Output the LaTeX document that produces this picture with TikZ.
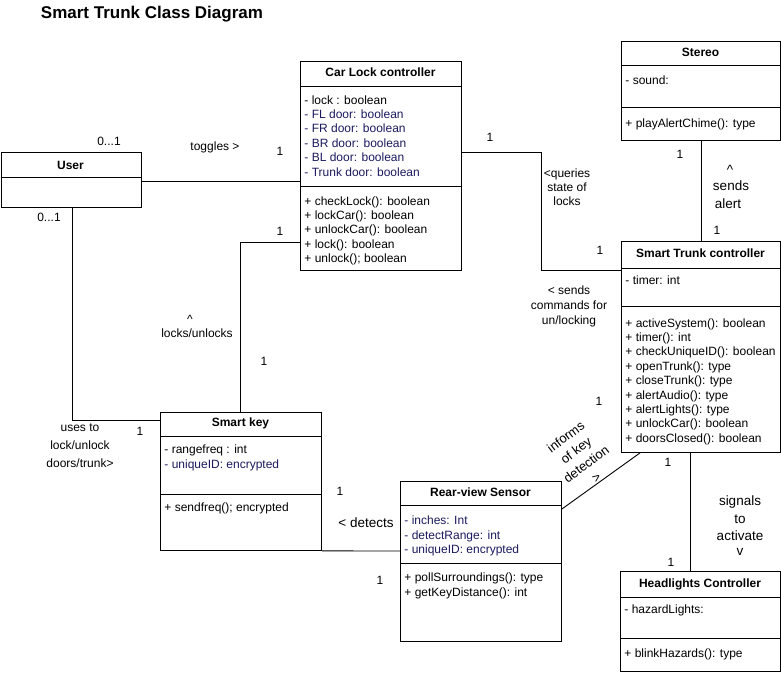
\documentclass[tikz,border=0pt]{standalone}
\usepackage{fontspec}
\setmainfont{Liberation Sans}
\definecolor{navy}{HTML}{1A1A5E}
\begin{document}
\begin{tikzpicture}[x=1pt,y=-1pt,line width=0.9pt,
  box/.style={draw,rectangle,anchor=north west,inner sep=0pt,line width=0.9pt},
  ttl/.style={font=\fontsize{12}{14.4}\selectfont\bfseries,anchor=base,inner sep=0pt},
  attr/.style={font=\fontsize{12}{14.4}\selectfont,anchor=base west,inner sep=0pt},
  lbl/.style={font=\fontsize{12}{14.4}\selectfont,anchor=base,inner sep=0pt},
  big/.style={font=\fontsize{13.5}{17}\selectfont,anchor=base,inner sep=0pt},
  conn/.style={draw,line width=0.9pt}]
\useasboundingbox (0,0) rectangle (781,672);

% title
\node[font=\fontsize{17}{20}\selectfont\bfseries,anchor=base west,inner sep=0pt] (title) at (40.5,18) {Smart Trunk Class Diagram};

% boxes
\node[box,minimum width=140pt,minimum height=55pt] (user) at (0.5,152) {};
\node[box,minimum width=161pt,minimum height=209pt] (car) at (300,61) {};
\node[box,minimum width=161pt,minimum height=138pt] (key) at (160,412) {};
\node[box,minimum width=161pt,minimum height=160pt] (rear) at (400,481) {};
\node[box,minimum width=159pt,minimum height=99pt] (stereo) at (621,41) {};
\node[box,minimum width=159pt,minimum height=211pt] (trunk) at (621,241) {};
\node[box,minimum width=160pt,minimum height=100pt] (head) at (620,571) {};

% dividers
\draw (user.west |- 0,177) -- (user.east |- 0,177);
\draw (car.west |- 0,86) -- (car.east |- 0,86);
\draw (car.west |- 0,186) -- (car.east |- 0,186);
\draw (key.west |- 0,436) -- (key.east |- 0,436);
\draw (key.west |- 0,494) -- (key.east |- 0,494);
\draw (rear.west |- 0,505) -- (rear.east |- 0,505);
\draw (rear.west |- 0,563) -- (rear.east |- 0,563);
\draw (stereo.west |- 0,65) -- (stereo.east |- 0,65);
\draw (stereo.west |- 0,107) -- (stereo.east |- 0,107);
\draw (trunk.west |- 0,268) -- (trunk.east |- 0,268);
\draw (trunk.west |- 0,306) -- (trunk.east |- 0,306);
\draw (head.west |- 0,597) -- (head.east |- 0,597);
\draw (head.west |- 0,638) -- (head.east |- 0,638);

% class names
\node[ttl] (user-t) at (70.5,169) {User};
\node[ttl] (car-t) at (380.5,76) {Car Lock controller};
\node[ttl] (key-t) at (240.5,426) {Smart key};
\node[ttl] (rear-t) at (480.5,496) {Rear-view Sensor};
\node[ttl] (stereo-t) at (700.5,56) {Stereo};
\node[ttl] (trunk-t) at (700.5,257) {Smart Trunk controller};
\node[ttl] (head-t) at (700,587) {Headlights Controller};

% Car Lock members
\foreach \t [count=\i] in {{- lock : boolean},{\color{navy}- FL door: boolean},{\color{navy}- FR door: boolean},{\color{navy}- BR door: boolean},{\color{navy}- BL door: boolean},{\color{navy}- Trunk door: boolean}}
  \node[attr] (car-a\i) at (304,{104+(\i-1)*14.4}) {\t};
\foreach \t [count=\i] in {{+ checkLock(): boolean},{+ lockCar(): boolean},{+ unlockCar(): boolean},{+ lock(): boolean},{+ unlock(); boolean}}
  \node[attr] (car-m\i) at (304,{205+(\i-1)*14.4}) {\t};

% Smart key members
\node[attr] (key-a1) at (164,453) {- rangefreq : int};
\node[attr] (key-a2) at (164,468) {\color{navy}- uniqueID: encrypted};
\node[attr] (key-m1) at (164,511) {+ sendfreq(); encrypted};

% Rear-view members
\node[attr] (rear-a1) at (404,524) {\color{navy}- inches: Int};
\node[attr] (rear-a2) at (404,539) {\color{navy}- detectRange: int};
\node[attr] (rear-a3) at (404,553) {\color{navy}- uniqueID: encrypted};
\node[attr] (rear-m1) at (404,581) {+ pollSurroundings(): type};
\node[attr] (rear-m2) at (404,596) {+ getKeyDistance(): int};

% Stereo members
\node[attr] (stereo-a1) at (625,84) {- sound:};
\node[attr] (stereo-m1) at (625,127) {+ playAlertChime(): type};

% Smart Trunk members
\node[attr] (trunk-a1) at (625,284) {- timer: int};
\foreach \t [count=\i] in {{+ activeSystem(): boolean},{+ timer(): int},{+ checkUniqueID(): boolean},{+ openTrunk(): type},{+ closeTrunk(): type},{+ alertAudio(): type},{+ alertLights(): type},{+ unlockCar(): boolean},{+ doorsClosed(): boolean}}
  \node[attr] (trunk-m\i) at (625,{327+(\i-1)*14.4}) {\t};

% Headlights members
\node[attr] (head-a1) at (624,613) {- hazardLights:};
\node[attr] (head-m1) at (624,657) {+ blinkHazards(): type};

% connectors
\coordinate (b1) at (541,152);
\coordinate (b2) at (541,270);
\draw[conn] (user.east |- 0,181) -- (car.west |- 0,181);
\draw[conn] (user.south -| 72,0) |- (key.west |- 0,420);
\draw[conn] (key.north -| 240,0) |- (car.west |- 0,242);
\draw[conn] (key.south east) -- (rear.west |- 0,551);
\draw[conn] (rear.east |- 0,509) -- (trunk.south -| 640,0);
\draw[conn] (car.east |- b1) -- (b1) -- (b2) -- (trunk.west |- b2);
\draw[conn] (stereo.south) -- (trunk.north);
\draw[conn] (trunk.south -| 690,0) -- (head.north -| 690,0);

% labels
\node[lbl] (l1) at (109,145) {0...1};
\node[lbl] (l2) at (215,150) {toggles >};
\node[lbl] (l3) at (280,155) {1};
\node[lbl] (l4) at (49,221) {0...1};
\node[lbl] (l5) at (280,235) {1};
\node[lbl] (l6) at (190,323) {\^{}};
\node[lbl] (l7) at (197,337) {locks/unlocks};
\node[lbl] (l8) at (264,365) {1};
\node[lbl] (l9a) at (80,431) {uses to};
\node[lbl] (l9b) at (80,449) {lock/unlock};
\node[lbl] (l9c) at (80,467) {doors/trunk>};
\node[lbl] (l10) at (140,435) {1};
\node[lbl] (l11) at (490,141) {1};
\node[lbl] (l12a) at (567,177) {<queries};
\node[lbl] (l12b) at (567,191) {state of};
\node[lbl] (l12c) at (567,205) {locks};
\node[lbl] (l13) at (600,254) {1};
\node[lbl] (l14a) at (569,294) {< sends};
\node[lbl] (l14b) at (569,309) {commands for};
\node[lbl] (l14c) at (569,324) {un/locking};
\node[lbl] (l15) at (680,158) {1};
\node[big] (l16a) at (730,174) {\^{}};
\node[big] (l16b) at (731,190) {sends};
\node[big] (l16c) at (728,208) {alert};
\node[lbl] (l17) at (717,234) {1};
\node[lbl] (l18) at (599,405) {1};
\node[font=\fontsize{13}{17}\selectfont,align=center,inner sep=0pt,rotate=37] (l19) at (581,457) {informs\\of key\\detection\\>};
\node[lbl] (l20) at (340,495) {1};
\node[big] (l21) at (366,527) {< detects};
\node[lbl] (l22) at (380,584) {1};
\node[lbl] (l23) at (668,466) {1};
\node[big] (l24a) at (740,505) {signals};
\node[big] (l24b) at (740,523) {to};
\node[big] (l24c) at (740,540) {activate};
\node[big] (l24d) at (740,555) {v};
\node[lbl] (l25) at (671,566) {1};
\end{tikzpicture}
\end{document}
